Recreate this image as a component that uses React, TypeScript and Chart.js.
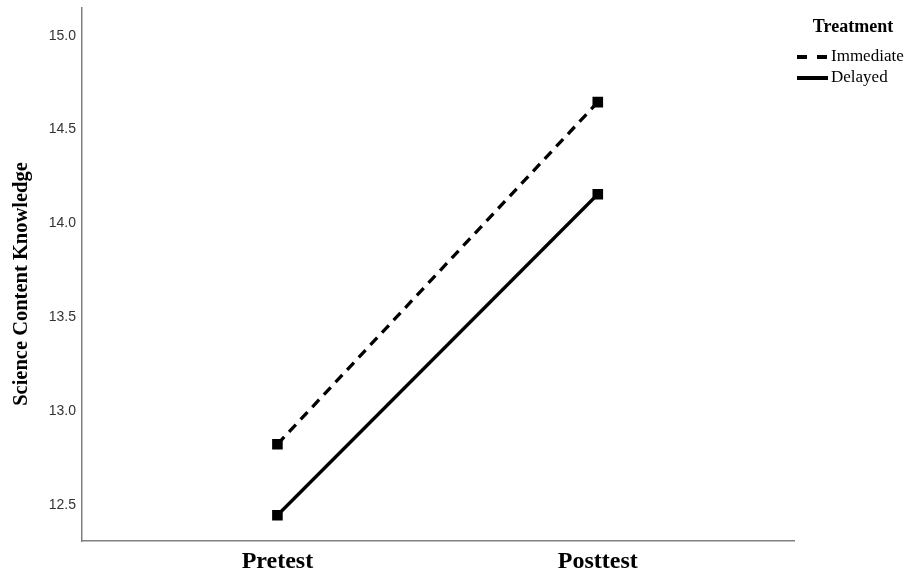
import React, { useEffect, useRef } from "react";
import { Chart, registerables } from "chart.js";

Chart.register(...registerables);

const categories = ["Pretest", "Posttest"];
const seriesNames = ["Immediate", "Delayed"];
const immediateValues = [12.825, 14.646];
const delayedValues = [12.447, 14.156];
const yTickValues = [12.5, 13.0, 13.5, 14.0, 14.5, 15.0];
const yTitle = "Science Content Knowledge";
const legendTitle = "Treatment";

const overlayPlugin = {
  id: "overlay",
  afterDraw(chart: any) {
    const ctx = chart.ctx;
    ctx.save();
    // y-axis title
    ctx.fillStyle = "#000";
    ctx.font = "bold 20.5px 'Liberation Serif'";
    ctx.textAlign = "center";
    ctx.textBaseline = "alphabetic";
    ctx.translate(26.5, 284);
    ctx.rotate(-Math.PI / 2);
    ctx.fillText(yTitle, 0, 0);
    ctx.restore();

    // legend
    ctx.save();
    ctx.fillStyle = "#000";
    ctx.font = "bold 18px 'Liberation Serif'";
    ctx.textAlign = "center";
    ctx.textBaseline = "middle";
    ctx.fillText(legendTitle, 853, 27);
    const ys = [57, 78];
    chart.data.datasets.forEach((ds: any, i: number) => {
      const y = ys[i];
      ctx.beginPath();
      ctx.strokeStyle = "#000";
      ctx.lineWidth = 4;
      ctx.setLineDash(ds.borderDash && ds.borderDash.length ? [10, 10] : []);
      ctx.moveTo(797, y);
      ctx.lineTo(828, y);
      ctx.stroke();
      ctx.setLineDash([]);
      ctx.font = "17px 'Liberation Serif'";
      ctx.textAlign = "left";
      ctx.fillText(ds.label, 831, y);
    });
    ctx.restore();
  },
};

function App() {
  const canvasRef = useRef<HTMLCanvasElement | null>(null);
  useEffect(() => {
    const canvas = canvasRef.current;
    if (!canvas) return;
    const chart = new Chart(canvas, {
      type: "line",
      data: {
        datasets: [
          {
            label: seriesNames[0],
            data: immediateValues.map((v, i) => ({ x: i, y: v })),
            borderColor: "#000",
            backgroundColor: "#000",
            borderWidth: 3.3,
            borderDash: [10, 7],
            pointStyle: "rect",
            pointRadius: 7.5,
            pointBorderWidth: 0,
            pointBackgroundColor: "#000",
            tension: 0,
          },
          {
            label: seriesNames[1],
            data: delayedValues.map((v, i) => ({ x: i, y: v })),
            borderColor: "#000",
            backgroundColor: "#000",
            borderWidth: 3.3,
            borderDash: [],
            pointStyle: "rect",
            pointRadius: 7.5,
            pointBorderWidth: 0,
            pointBackgroundColor: "#000",
            tension: 0,
          },
        ],
      },
      options: {
        animation: false,
        responsive: false,
        maintainAspectRatio: false,
        layout: { padding: { left: 0, top: 7, right: 118, bottom: 0 } },
        plugins: {
          legend: { display: false },
          tooltip: { enabled: false },
        },
        scales: {
          x: {
            type: "linear",
            min: -0.61,
            max: 1.6125,
            grid: { display: false, drawTicks: false },
            border: { display: true, color: "#808080", width: 1.5 },
            afterBuildTicks: (scale: any) => {
              scale.ticks = categories.map((_, i) => ({ value: i }));
            },
            afterFit: (scale: any) => {
              scale.height = 35;
              scale.paddingLeft = 0;
              scale.paddingRight = 0;
            },
            ticks: {
              padding: 6,
              color: "#000",
              font: { family: "'Liberation Serif'", size: 24, weight: "bold" },
              callback: (v: any) => categories[Math.round(Number(v))] ?? "",
              maxRotation: 0,
            },
          },
          y: {
            type: "linear",
            min: 12.31,
            max: 15.15,
            grid: { display: false, drawTicks: false },
            border: { display: true, color: "#808080", width: 1.5 },
            afterBuildTicks: (scale: any) => {
              scale.ticks = yTickValues.map((v) => ({ value: v }));
            },
            afterFit: (scale: any) => {
              scale.width = 82;
              scale.paddingTop = 0;
              scale.paddingBottom = 0;
            },
            ticks: {
              padding: 6,
              color: "#333",
              font: { family: "'Liberation Sans'", size: 14 },
              callback: (v: any) => Number(v).toFixed(1),
            },
          },
        },
      },
      plugins: [overlayPlugin],
    });
    return () => chart.destroy();
  }, []);
  return (
    <div style={{ position: "fixed", left: 0, top: 0, width: 912, height: 576, background: "#fff" }}>
      <canvas ref={canvasRef} width={912} height={576} style={{ width: 912, height: 576, display: "block" }} />
    </div>
  );
}

export default App;
